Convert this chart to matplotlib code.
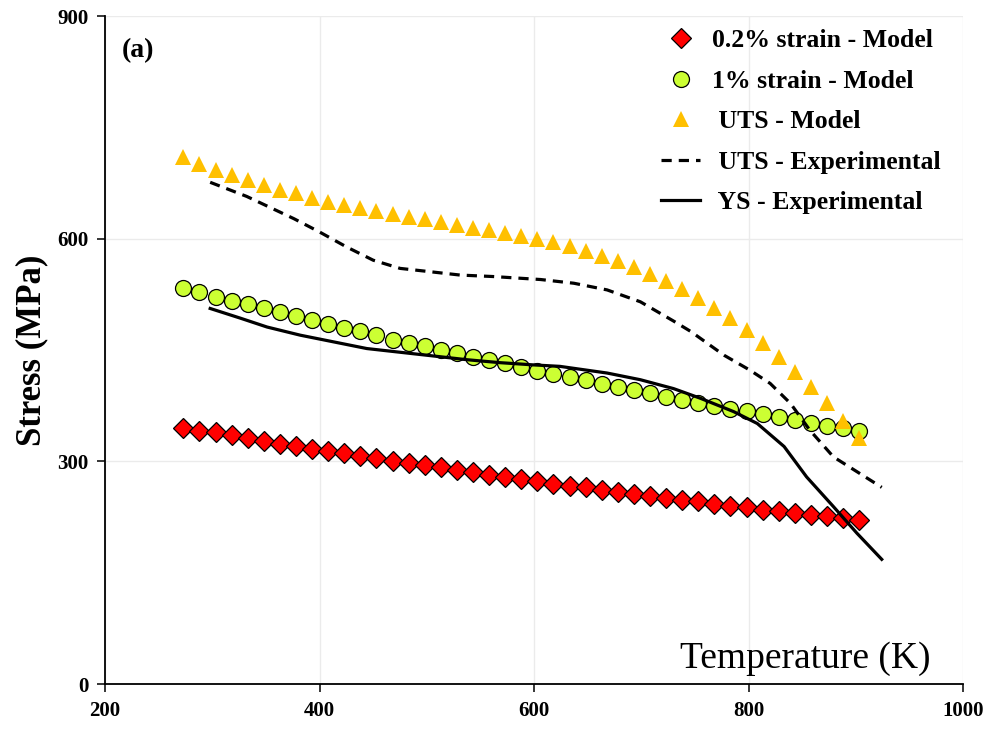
"""Stress vs temperature: model points (0.2 %, 1 %, UTS) against experimental UTS / YS curves."""
import numpy as np
import matplotlib
matplotlib.use("Agg")
import matplotlib.pyplot as plt  # noqa: E402

plt.rcParams["font.family"] = ["Liberation Serif", "DejaVu Serif"]
plt.rcParams["font.weight"] = "bold"

# model temperatures: 273 K to 903 K in 15 K steps (43 points)
T_MODEL = np.arange(273, 904, 15)

S_02 = [345, 341, 339, 335, 331, 328, 324, 321, 317, 314, 311, 307, 305,
        301, 298, 295, 292, 289, 285, 282, 279, 276, 273, 270, 267, 265,
        261, 259, 256, 253, 251, 248, 246, 243, 240, 238, 235, 233, 230,
        228, 226, 224, 221]
S_1 = [534, 528, 521, 516, 512, 506, 501, 496, 490, 485, 480, 476, 470,
       464, 460, 455, 450, 446, 441, 437, 432, 427, 422, 418, 413, 409,
       404, 400, 396, 392, 387, 383, 379, 375, 371, 368, 364, 360, 356,
       352, 348, 345, 341]
S_UTS = [710, 701, 693, 686, 679, 672, 666, 661, 655, 650, 645, 641, 637,
         633, 629, 626, 622, 619, 615, 612, 608, 604, 600, 596, 590, 584,
         577, 570, 562, 553, 543, 532, 520, 507, 493, 477, 460, 441, 421,
         400, 378, 355, 331]

# experimental curves
T_UTS_EXP = [298, 332, 376, 400, 425, 450, 475, 500, 531, 562, 606, 637,
             668, 699, 730, 746, 777, 801, 820, 839, 857, 879, 901, 924]
S_UTS_EXP = [676, 657, 627, 609, 589, 571, 560, 556, 551, 549, 545, 540,
             531, 515, 489, 475, 443, 423, 405, 378, 342, 306, 286, 265]
T_YS_EXP = [298, 326, 351, 382, 413, 444, 475, 506, 537, 568, 599, 624,
            668, 699, 730, 755, 786, 808, 833, 854, 879, 901, 924]
S_YS_EXP = [506, 493, 481, 470, 461, 452, 447, 442, 437, 433, 430, 428,
            419, 410, 398, 385, 367, 351, 320, 279, 239, 203, 168]

fig = plt.figure(figsize=(9.91, 7.29), dpi=100)
ax = fig.add_axes([0.106, 0.0617, 0.866, 0.9163])

ax.plot(T_MODEL, S_02, ls="none", marker="D", ms=10.5, mfc="#FF0000",
        mec="black", mew=0.9, label="0.2% strain - Model", zorder=4)
ax.plot(T_MODEL, S_1, ls="none", marker="o", ms=11.5, mfc="#CCFF33",
        mec="black", mew=0.9, label="1% strain - Model", zorder=3)
ax.plot(T_MODEL, S_UTS, ls="none", marker="^", ms=11.5, mfc="#FFC000",
        mec="#FFC000", mew=0, label=" UTS - Model", zorder=3)
ax.plot(T_UTS_EXP, S_UTS_EXP, color="black", lw=2.3, ls=(0, (3.2, 2.2)),
        label=" UTS - Experimental", zorder=5)
ax.plot(T_YS_EXP, S_YS_EXP, color="black", lw=2.3,
        label=" YS - Experimental", zorder=5)

ax.set_xlim(200, 1000)
ax.set_ylim(0, 900)
ax.set_xticks([200, 400, 600, 800, 1000])
ax.set_yticks([0, 300, 600, 900])
ax.grid(True, color="#EBEBEB", lw=1.0)
ax.set_axisbelow(True)
for s in ("top", "right"):
    ax.spines[s].set_visible(False)
ax.spines["left"].set_linewidth(1.3)
ax.spines["bottom"].set_linewidth(1.3)
ax.tick_params(axis="both", direction="out", length=6, width=1.1,
               labelsize=15, pad=6)
for lab in ax.get_xticklabels() + ax.get_yticklabels():
    lab.set_fontweight("bold")

ax.set_ylabel("Stress (MPa)", fontsize=25, fontweight="bold", labelpad=6)
ax.text(0.9615, 0.024, "Temperature (K)", transform=ax.transAxes,
        ha="right", va="baseline", fontsize=27, fontweight="normal")
ax.text(0.02, 0.948, "(a)", transform=ax.transAxes, ha="left", va="center",
        fontsize=20, fontweight="bold")

leg = ax.legend(loc="upper right", bbox_to_anchor=(1.0, 1.015), frameon=False,
                numpoints=1, handlelength=1.5, handletextpad=0.45,
                labelspacing=0.68, prop={"weight": "bold", "size": 18.5})

fig.savefig("out.png", dpi=100)
